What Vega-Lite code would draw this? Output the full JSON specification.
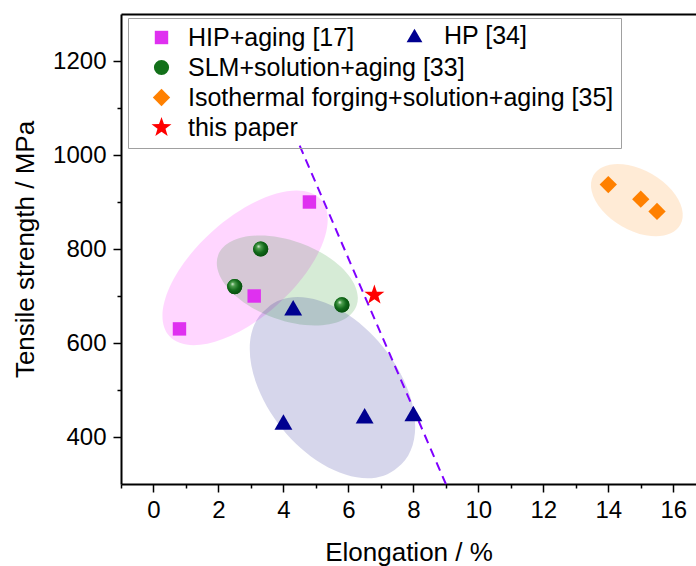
{
  "$schema": "https://vega.github.io/schema/vega-lite/v6.json",
  "width": 575,
  "height": 470,
  "autosize": {"type": "none"},
  "padding": {"left": 121, "top": 14, "right": 0, "bottom": 82},
  "config": {
    "font": "Liberation Sans",
    "view": {"stroke": null},
    "axis": {"labelColor": "black", "titleColor": "black", "domainColor": "black", "tickColor": "black", "grid": false, "titleFontWeight": "normal", "labelFont": "Liberation Sans", "titleFont": "Liberation Sans"},
    "legend": {"labelFont": "Liberation Sans", "labelColor": "black"}
  },
  "datasets": {
    "regions": [
      {"group": "HIP", "x": 2.82, "y": 760},
      {"group": "SLM", "x": 4.12, "y": 733},
      {"group": "HP", "x": 5.51, "y": 505},
      {"group": "ISO", "x": 14.88, "y": 904}
    ],
    "cutline": [
      {"x": 4.5, "y": 1020},
      {"x": 9.0, "y": 300}
    ],
    "points": [
      {"series": "HIP+aging [17]", "x": 0.8, "y": 630},
      {"series": "HIP+aging [17]", "x": 3.1, "y": 700},
      {"series": "HIP+aging [17]", "x": 4.8, "y": 900},
      {"series": "SLM+solution+aging [33]", "x": 2.5, "y": 720},
      {"series": "SLM+solution+aging [33]", "x": 3.3, "y": 800},
      {"series": "SLM+solution+aging [33]", "x": 5.8, "y": 681},
      {"series": "Isothermal forging+solution+aging [35]", "x": 14.0, "y": 937},
      {"series": "Isothermal forging+solution+aging [35]", "x": 15.0, "y": 906},
      {"series": "Isothermal forging+solution+aging [35]", "x": 15.5, "y": 880},
      {"series": "this paper", "x": 6.8, "y": 702}
    ],
    "hp": [
      {"series": "HP [34]", "x": 4.3, "y": 675},
      {"series": "HP [34]", "x": 4.0, "y": 432},
      {"series": "HP [34]", "x": 6.5, "y": 445},
      {"series": "HP [34]", "x": 8.0, "y": 450}
    ]
  },
  "layer": [
    {
      "data": {"name": "regions"},
      "mark": {"type": "point", "filled": true, "opacity": 0.16, "strokeWidth": 0, "size": 40000},
      "encoding": {
        "x": {"field": "x", "type": "quantitative", "scale": {"domain": [-1, 16.7], "nice": false, "zero": false}, "axis": null},
        "y": {
          "field": "y", "type": "quantitative",
          "scale": {"domain": [300, 1300], "nice": false, "zero": false},
          "axis": {
            "title": "Tensile strength / MPa",
            "values": [400, 500, 600, 700, 800, 900, 1000, 1100, 1200],
            "format": "d",
            "labelExpr": "datum.value % 200 === 0 ? datum.label : ''",
            "tickSize": {"condition": {"test": "datum.value % 200 === 0", "value": 8}, "value": 4},
            "tickWidth": 1.5,
            "domainWidth": 2,
            "labelFontSize": 24,
            "titleFontSize": 26,
            "labelPadding": 7,
            "titlePadding": 14
          }
        },
        "color": {"field": "group", "type": "nominal", "scale": {"domain": ["HIP", "SLM", "HP", "ISO"], "range": ["#ff00ff", "#008000", "#000080", "#ff8000"]}, "legend": null},
        "shape": {"field": "group", "type": "nominal", "scale": {"domain": ["HIP", "SLM", "HP", "ISO"], "range": [
          "M0.758,-0.683A1.02,0.49,-42,1,0,-0.758,0.683A1.02,0.49,-42,1,0,0.758,-0.683Z",
          "M0.692,0.252A0.736,0.397,20,1,0,-0.692,-0.252A0.736,0.397,20,1,0,0.692,0.252Z",
          "M0.648,0.8A1.03,0.63,51,1,0,-0.648,-0.8A1.03,0.63,51,1,0,0.648,0.8Z",
          "M0.433,0.25A0.5,0.3,30,1,0,-0.433,-0.25A0.5,0.3,30,1,0,0.433,0.25Z"
        ]}, "legend": null}
      }
    },
    {
      "data": {"name": "cutline"},
      "mark": {"type": "line", "color": "#7f00ff", "strokeDash": [9, 6], "strokeWidth": 2},
      "encoding": {
        "x": {"field": "x", "type": "quantitative", "axis": {"orient": "top", "labels": false, "ticks": false, "title": null, "domainWidth": 2, "domainColor": "black", "grid": false}},
        "y": {"field": "y", "type": "quantitative"}
      }
    },
    {
      "data": {"name": "points"},
      "mark": {"type": "point", "filled": true, "opacity": 1, "strokeWidth": 0},
      "encoding": {
        "x": {
          "field": "x", "type": "quantitative",
          "axis": {
            "orient": "bottom",
            "title": "Elongation / %",
            "values": [-1, 0, 1, 2, 3, 4, 5, 6, 7, 8, 9, 10, 11, 12, 13, 14, 15, 16],
            "labelExpr": "datum.value % 2 === 0 ? datum.label : ''",
            "tickSize": {"condition": {"test": "datum.value % 2 === 0", "value": 8}, "value": 4},
            "tickWidth": 1.5,
            "domainWidth": 2,
            "labelFontSize": 24,
            "titleFontSize": 26,
            "labelPadding": 6,
            "titlePadding": 17,
            "labelFlush": false,
            "labelOverlap": false
          }
        },
        "y": {"field": "y", "type": "quantitative"},
        "color": {
          "field": "series", "type": "nominal",
          "scale": {"domain": ["HIP+aging [17]", "SLM+solution+aging [33]", "Isothermal forging+solution+aging [35]", "this paper"], "range": ["#df30f0", "#13701a", "#ff8000", "#ff0000"]},
          "legend": {"title": null, "orient": "none", "legendX": 7, "legendY": 4, "padding": 7, "strokeColor": "#a0a0a0", "labelFontSize": 25, "symbolSize": 220, "rowPadding": 4, "symbolOffset": 14, "labelOffset": 14, "labelLimit": 600}
        },
        "shape": {
          "field": "series", "type": "nominal",
          "scale": {"domain": ["HIP+aging [17]", "SLM+solution+aging [33]", "Isothermal forging+solution+aging [35]", "this paper"], "range": ["square", "circle", "diamond", "M0,-1L0.235,-0.324L0.951,-0.309L0.38,0.124L0.588,0.809L0,0.4L-0.588,0.809L-0.38,0.124L-0.951,-0.309L-0.235,-0.324Z"]},
          "legend": {"title": null, "orient": "none", "legendX": 7, "legendY": 4, "padding": 7, "strokeColor": "#a0a0a0", "labelFontSize": 25, "symbolSize": 220, "rowPadding": 4, "symbolOffset": 14, "labelOffset": 14, "labelLimit": 600}
        },
        "size": {
          "field": "series", "type": "nominal",
          "scale": {"type": "ordinal", "domain": ["HIP+aging [17]", "SLM+solution+aging [33]", "Isothermal forging+solution+aging [35]", "this paper"], "range": [180, 230, 300, 440]},
          "legend": null
        }
      }
    },
    {
      "data": {"name": "points"},
      "transform": [{"filter": "datum.series === 'SLM+solution+aging [33]'"}],
      "mark": {"type": "circle", "size": 230, "opacity": 1, "strokeWidth": 0, "fill": {"gradient": "radial", "x1": 0.35, "y1": 0.32, "r1": 0, "x2": 0.45, "y2": 0.45, "r2": 0.6, "stops": [{"offset": 0, "color": "#e0f2e0"}, {"offset": 0.22, "color": "#4f9f4f"}, {"offset": 0.6, "color": "#11691a"}, {"offset": 1, "color": "#064a0b"}]}},
      "encoding": {
        "x": {"field": "x", "type": "quantitative", "axis": null},
        "y": {"field": "y", "type": "quantitative"}
      }
    },
    {
      "data": {"name": "hp"},
      "mark": {"type": "point", "filled": true, "opacity": 1, "strokeWidth": 0, "size": 320},
      "encoding": {
        "x": {"field": "x", "type": "quantitative", "axis": null},
        "y": {"field": "y", "type": "quantitative"},
        "color": {
          "field": "series", "type": "nominal",
          "scale": {"domain": ["HP [34]"], "range": ["#000090"]},
          "legend": {"title": null, "orient": "none", "legendX": 274, "legendY": 2, "padding": 7, "labelFontSize": 25, "symbolSize": 250, "symbolOffset": 0, "labelOffset": 17}
        },
        "shape": {
          "field": "series", "type": "nominal",
          "scale": {"domain": ["HP [34]"], "range": ["triangle-up"]},
          "legend": {"title": null, "orient": "none", "legendX": 274, "legendY": 2, "padding": 7, "labelFontSize": 25, "symbolSize": 250, "symbolOffset": 0, "labelOffset": 17}
        }
      }
    }
  ],
  "resolve": {"scale": {"color": "independent", "shape": "independent", "size": "independent"}, "axis": {"x": "independent"}}
}
